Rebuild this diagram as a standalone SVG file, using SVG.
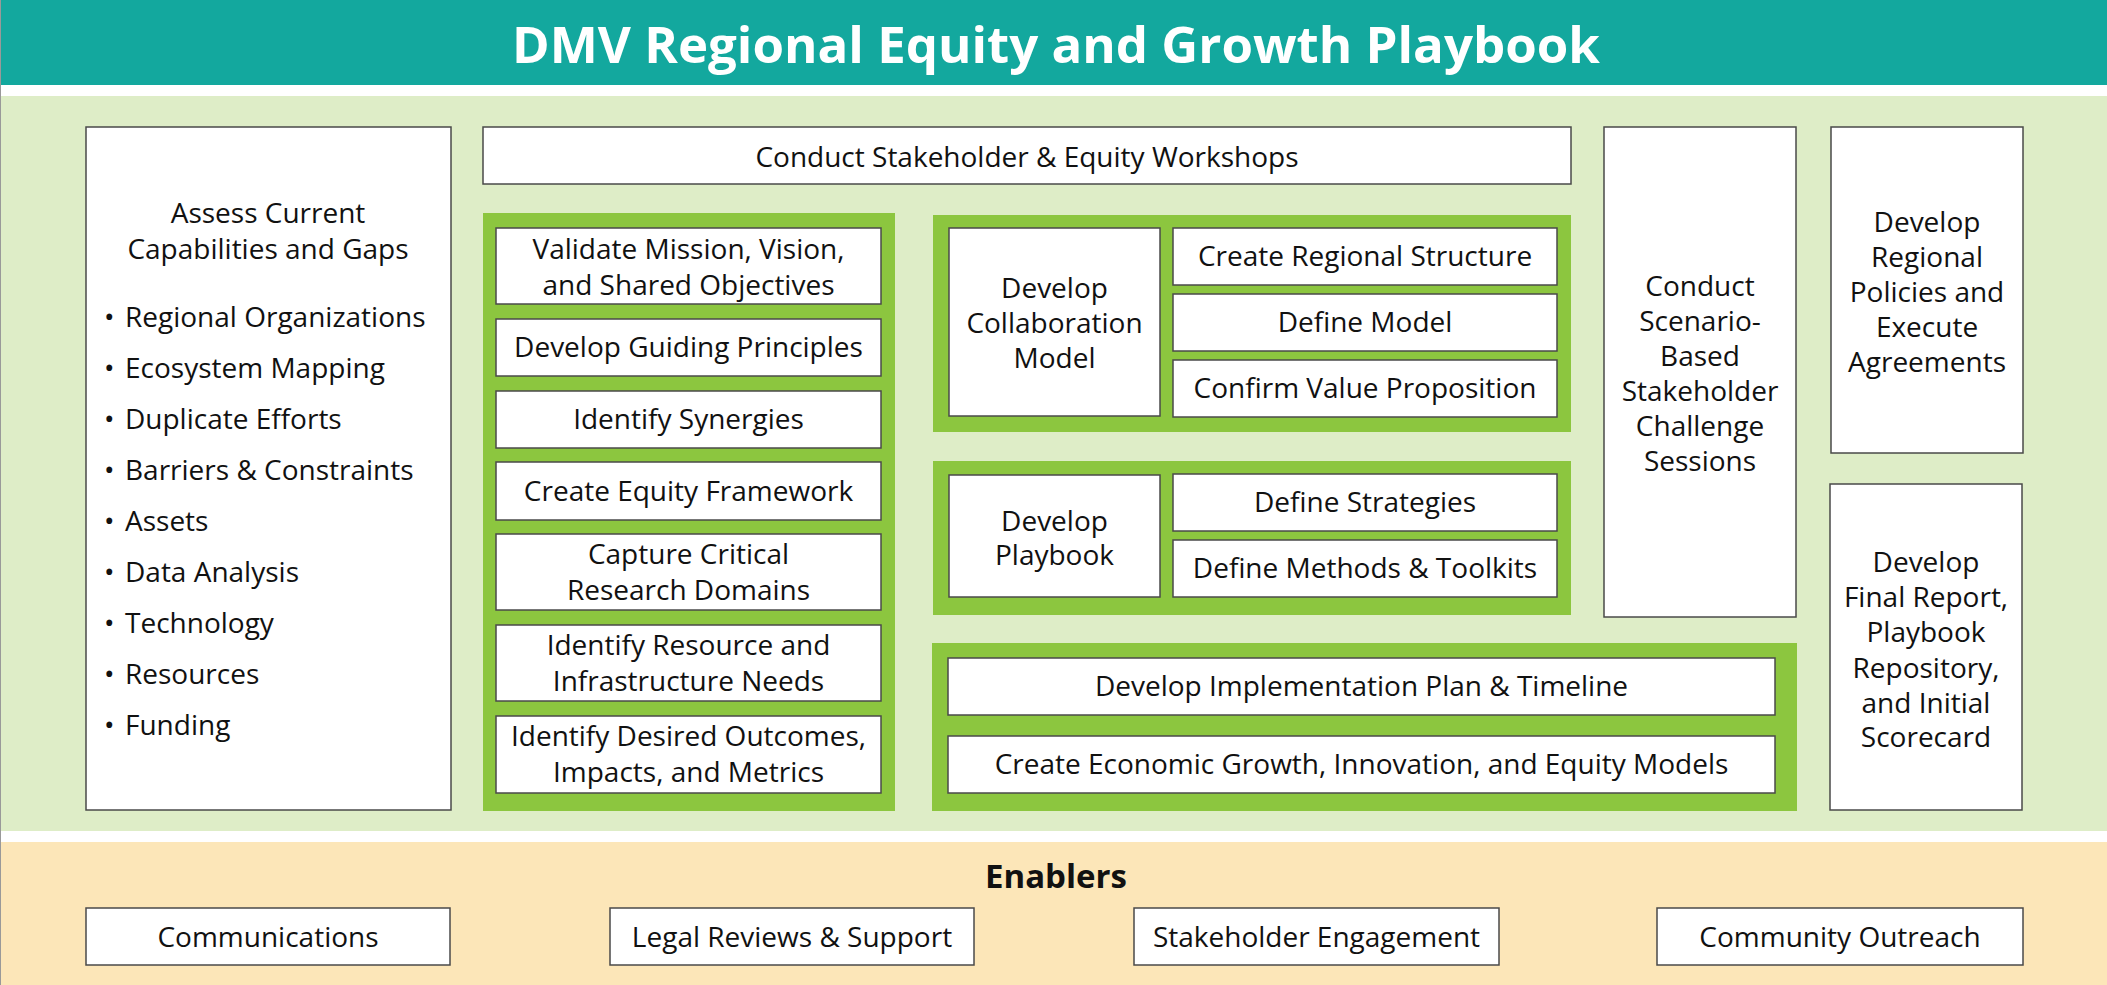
<svg xmlns="http://www.w3.org/2000/svg" width="2107" height="985" viewBox="0 0 2107 985">
<style>
text{font-family:"Open Sans","Noto Sans","Liberation Sans",sans-serif;font-size:28px;fill:#111;text-anchor:middle}
.box{fill:#fff;stroke:#4a4a4a;stroke-width:1.5}
.panel{fill:#8CC63F}
.title{font-size:51px;font-weight:bold;fill:#fff}
.hdr{font-size:33px;font-weight:bold}
.l{text-anchor:start}
</style>
<rect x="0" y="0" width="2107" height="985" fill="#fff"/>
<rect x="0" y="0" width="2107" height="85" fill="#13A89E"/>
<rect x="0" y="96" width="2107" height="735" fill="#DEEDC7"/>
<rect x="0" y="842" width="2107" height="143" fill="#FCE6B8"/>
<line x1="0.5" y1="0" x2="0.5" y2="985" stroke="#999" stroke-width="1"/>
<g id="title"><text class="title" x="1056" y="63">DMV Regional Equity and Growth Playbook</text></g>

<g id="assess">
<rect class="box" x="86" y="127" width="365" height="683"/>
<text x="268" y="223">Assess Current</text>
<text x="268" y="259">Capabilities and Gaps</text>
<text class="l"><tspan x="104" y="327">•</tspan><tspan x="125" y="327">Regional Organizations</tspan></text>
<text class="l"><tspan x="104" y="378">•</tspan><tspan x="125" y="378">Ecosystem Mapping</tspan></text>
<text class="l"><tspan x="104" y="429">•</tspan><tspan x="125" y="429">Duplicate Efforts</tspan></text>
<text class="l"><tspan x="104" y="480">•</tspan><tspan x="125" y="480">Barriers &amp; Constraints</tspan></text>
<text class="l"><tspan x="104" y="531">•</tspan><tspan x="125" y="531">Assets</tspan></text>
<text class="l"><tspan x="104" y="582">•</tspan><tspan x="125" y="582">Data Analysis</tspan></text>
<text class="l"><tspan x="104" y="633">•</tspan><tspan x="125" y="633">Technology</tspan></text>
<text class="l"><tspan x="104" y="684">•</tspan><tspan x="125" y="684">Resources</tspan></text>
<text class="l"><tspan x="104" y="735">•</tspan><tspan x="125" y="735">Funding</tspan></text>
</g>

<g id="workshops">
<rect class="box" x="483" y="127" width="1088" height="57"/>
<text x="1027" y="167">Conduct Stakeholder &amp; Equity Workshops</text>
</g>

<g id="panel-foundation">
<rect class="panel" x="483" y="213" width="412" height="598"/>
<g id="validate"><rect class="box" x="496" y="228" width="385" height="76"/><text x="688.5" y="259">Validate Mission, Vision,</text><text x="688.5" y="295">and Shared Objectives</text></g>
<g id="principles"><rect class="box" x="496" y="319" width="385" height="57"/><text x="688.5" y="357">Develop Guiding Principles</text></g>
<g id="synergies"><rect class="box" x="496" y="391" width="385" height="57"/><text x="688.5" y="429">Identify Synergies</text></g>
<g id="equity-framework"><rect class="box" x="496" y="462" width="385" height="58"/><text x="688.5" y="501">Create Equity Framework</text></g>
<g id="research"><rect class="box" x="496" y="534" width="385" height="76"/><text x="688.5" y="564">Capture Critical</text><text x="688.5" y="600">Research Domains</text></g>
<g id="resources"><rect class="box" x="496" y="625" width="385" height="76"/><text x="688.5" y="655">Identify Resource and</text><text x="688.5" y="691">Infrastructure Needs</text></g>
<g id="outcomes"><rect class="box" x="496" y="716" width="385" height="77"/><text x="688.5" y="746">Identify Desired Outcomes,</text><text x="688.5" y="782">Impacts, and Metrics</text></g>
</g>

<g id="panel-collaboration">
<rect class="panel" x="933" y="215" width="638" height="217"/>
<g id="collab-model"><rect class="box" x="949" y="228" width="211" height="188"/><text x="1054.5" y="298">Develop</text><text x="1054.5" y="333">Collaboration</text><text x="1054.5" y="368">Model</text></g>
<g id="regional-structure"><rect class="box" x="1173" y="228" width="384" height="57"/><text x="1365" y="266">Create Regional Structure</text></g>
<g id="define-model"><rect class="box" x="1173" y="294" width="384" height="57"/><text x="1365" y="332">Define Model</text></g>
<g id="value-prop"><rect class="box" x="1173" y="360" width="384" height="57"/><text x="1365" y="398">Confirm Value Proposition</text></g>
</g>

<g id="panel-playbook">
<rect class="panel" x="933" y="461" width="638" height="154"/>
<g id="dev-playbook"><rect class="box" x="949" y="475" width="211" height="122"/><text x="1054.5" y="531">Develop</text><text x="1054.5" y="565">Playbook</text></g>
<g id="strategies"><rect class="box" x="1173" y="474" width="384" height="57"/><text x="1365" y="512">Define Strategies</text></g>
<g id="methods"><rect class="box" x="1173" y="540" width="384" height="57"/><text x="1365" y="578">Define Methods &amp; Toolkits</text></g>
</g>

<g id="panel-implementation">
<rect class="panel" x="932" y="643" width="865" height="168"/>
<g id="impl-plan"><rect class="box" x="948" y="658" width="827" height="57"/><text x="1361.5" y="696">Develop Implementation Plan &amp; Timeline</text></g>
<g id="econ-models"><rect class="box" x="948" y="736" width="827" height="57"/><text x="1361.5" y="774">Create Economic Growth, Innovation, and Equity Models</text></g>
</g>

<g id="scenario">
<rect class="box" x="1604" y="127" width="192" height="490"/>
<text x="1700" y="296">Conduct</text><text x="1700" y="331">Scenario-</text><text x="1700" y="366">Based</text><text x="1700" y="401">Stakeholder</text><text x="1700" y="436">Challenge</text><text x="1700" y="471">Sessions</text>
</g>

<g id="policies">
<rect class="box" x="1831" y="127" width="192" height="326"/>
<text x="1927" y="232">Develop</text><text x="1927" y="267">Regional</text><text x="1927" y="302">Policies and</text><text x="1927" y="337">Execute</text><text x="1927" y="372">Agreements</text>
</g>

<g id="final-report">
<rect class="box" x="1830" y="484" width="192" height="326"/>
<text x="1926" y="572">Develop</text><text x="1926" y="607">Final Report,</text><text x="1926" y="642">Playbook</text><text x="1926" y="678">Repository,</text><text x="1926" y="713">and Initial</text><text x="1926" y="747">Scorecard</text>
</g>

<g id="enablers">
<text class="hdr" x="1056" y="888">Enablers</text>
<g id="communications"><rect class="box" x="86" y="908" width="364" height="57"/><text x="268" y="947">Communications</text></g>
<g id="legal"><rect class="box" x="610" y="908" width="364" height="57"/><text x="792" y="947">Legal Reviews &amp; Support</text></g>
<g id="engagement"><rect class="box" x="1134" y="908" width="365" height="57"/><text x="1316.5" y="947">Stakeholder Engagement</text></g>
<g id="outreach"><rect class="box" x="1657" y="908" width="366" height="57"/><text x="1840" y="947">Community Outreach</text></g>
</g>
<g id="connectors"/>
</svg>
